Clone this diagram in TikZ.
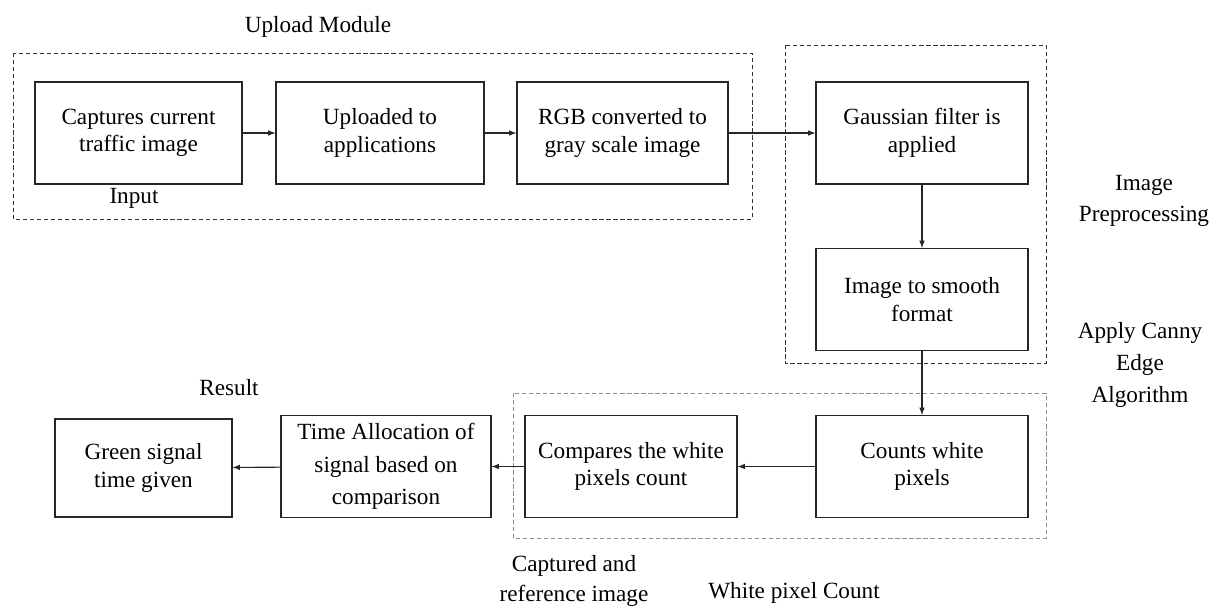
\documentclass[tikz,border=0pt]{standalone}
\usepackage{fontspec}
\setmainfont{Liberation Serif}
\usepackage{tikz}
\usetikzlibrary{arrows}

\begin{document}
\begin{tikzpicture}[x=0.025cm, y=-0.025cm,
   stepbox/.style={draw=black!85, line width=0.8pt, rectangle,
      minimum width=5.25cm, minimum height=2.55cm,
      align=center, font=\fontsize{16.5}{19.5}\selectfont},
   tag/.style={align=center, font=\fontsize{16.5}{22.5}\selectfont},
   flow/.style={-latex, draw=black!85, line width=0.8pt},
   group/.style={dashed, dash pattern=on 3pt off 2pt, line width=0.7pt, draw=black!80}]
\useasboundingbox (0,0) rectangle (1210,610);

% upload module
\draw[group] (13,53) rectangle (752,219);
\node[tag] (upload) at (318,27) {Upload Module};
\node[stepbox, minimum width=5.175cm] (capture) at (138.5,133)
  {Captures current\\traffic image};
\node[stepbox, minimum width=5.2cm] (uploaded) at (380,133)
  {Uploaded to\\applications};
\node[stepbox, minimum width=5.275cm] (rgb) at (622.5,133)
  {RGB converted to\\gray scale image};
\node[tag] (input) at (134,198) {Input};

% preprocessing
\draw[group] (785,45) rectangle (1046,363);
\node[stepbox, minimum width=5.3cm] (gauss) at (922,133)
  {Gaussian filter is\\applied};
\node[stepbox, minimum width=5.3cm] (smooth) at (922,299.5)
  {Image to smooth\\format};
\node[tag] (prep) at (1144,201) {Image\\Preprocessing};
\node[tag] (canny) at (1140,365)
  {Apply Canny\\Edge\\Algorithm};

% white pixel count
\draw[group, draw=black!45] (513,393) rectangle (1046,538);
\node[stepbox, minimum width=5.3cm] (counts) at (922,466.5)
  {Counts white\\pixels};
\node[stepbox, minimum width=5.3cm] (compare) at (631,466.5)
  {Compares the white\\pixels count};
\node[stepbox, minimum width=5.25cm, font=\fontsize{16.5}{23}\selectfont] (alloc) at (386,466.5)
  {Time Allocation of\\signal based on\\comparison};
\node[stepbox, minimum width=4.425cm, minimum height=2.45cm] (green) at (143.5,468)
  {Green signal\\time given};
\node[tag] (result) at (229,388) {Result};
\node[tag, font=\fontsize{16.5}{21}\selectfont] (captured) at (574,581) {Captured and\\reference image};
\node[tag] (wpc) at (794,593) {White pixel Count};

\draw[flow] (capture) -- (uploaded);
\draw[flow] (uploaded) -- (rgb);
\draw[flow] (rgb) -- (gauss);
\draw[flow] (gauss) -- (smooth);
\draw[flow] (smooth) -- (counts);
\draw[flow] (counts) -- (compare);
\draw[flow] (compare) -- (alloc);
\draw[flow] (alloc) -- (green);
\end{tikzpicture}
\end{document}
